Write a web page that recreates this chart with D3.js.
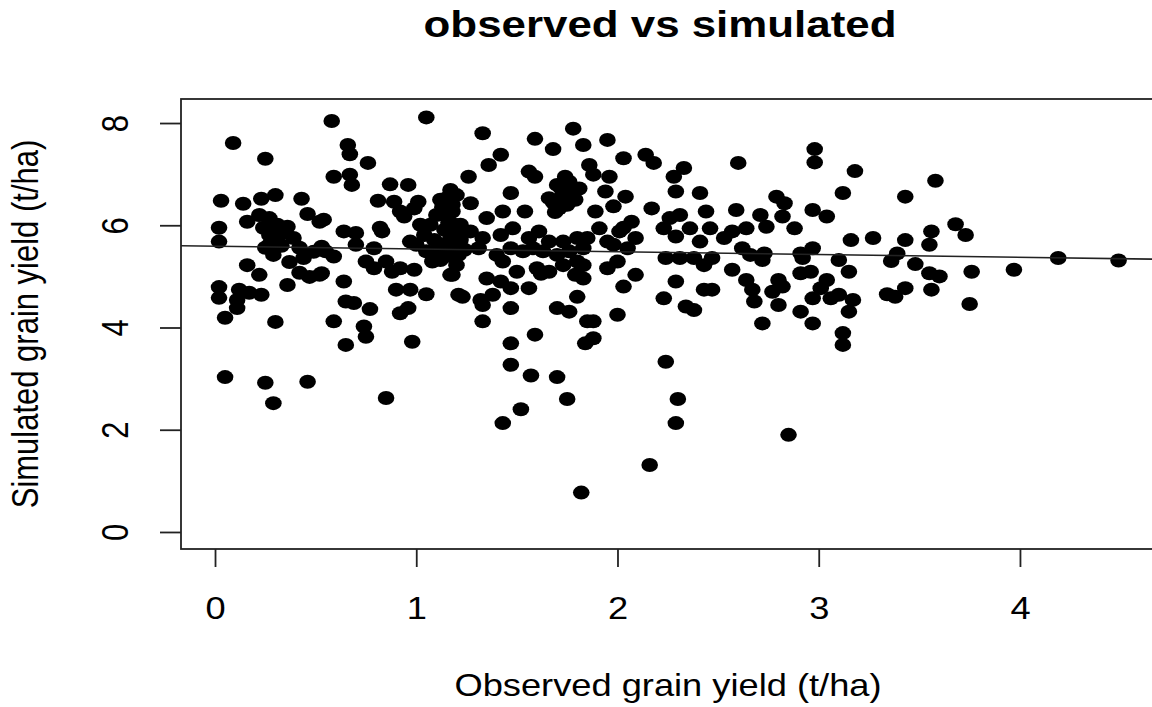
<!DOCTYPE html>
<html>
<head>
<meta charset="utf-8">
<script src="https://cdn.jsdelivr.net/npm/d3@7"></script>
<style>
  body { margin: 0; background: #fff; }
  text { font-family: "Liberation Sans", Arial, sans-serif; fill: #000; }
</style>
</head>
<body>
<script>
// observed vs simulated grain yield (t/ha)
const observed = [
  0.09,0.25,0.03,0.14,0.23,0.30,0.43,0.46,0.52,0.16,
  0.22,0.27,0.24,0.31,0.36,0.02,0.02,0.25,0.31,0.39,
  0.42,0.49,0.53,0.37,0.44,0.29,0.16,0.22,0.42,0.47,
  0.52,0.36,0.02,0.02,0.12,0.17,0.23,0.11,0.11,0.05,
  0.30,0.27,0.34,0.05,0.25,0.29,0.46,0.85,
  0.58,1.05,0.66,0.67,0.76,0.59,0.67,0.68,0.87,0.96,
  0.81,0.89,0.92,0.94,1.01,0.99,0.54,0.82,0.83,0.64,
  0.70,0.70,0.79,0.55,0.59,0.53,0.75,0.79,0.85,0.88,
  0.92,0.99,0.97,1.00,1.15,1.07,1.10,1.18,1.17,1.12,
  1.08,1.17,1.05,0.64,0.65,0.69,0.77,0.90,0.97,1.05,
  0.92,0.96,0.59,0.74,0.75,0.65,0.98,1.21,
  1.12,1.14,1.19,1.22,1.14,1.09,1.24,1.12,1.21,1.04,1.02,1.17,
  1.33,1.59,1.78,1.68,1.42,1.36,1.26,1.56,1.59,1.70,
  1.76,1.66,1.73,1.71,1.75,1.47,1.20,1.27,1.43,1.54,
  1.35,1.18,1.22,1.27,1.33,1.42,1.48,1.56,1.61,1.66,
  1.73,1.80,1.83,1.18,1.31,1.40,1.47,1.53,1.58,1.63,
  1.70,1.76,1.20,1.18,1.43,1.50,1.60,1.66,1.73,1.80,
  1.79,1.35,1.42,1.47,1.56,1.23,1.32,1.33,1.38,1.47,
  1.70,1.76,1.80,1.33,1.59,1.47,1.84,1.85,1.83,1.79,1.69,
  1.47,1.57,1.70,1.75,1.52,1.43,2.24,2.30,2.29,2.16,1.82,2.85,
  1.95,2.03,2.14,2.18,2.33,2.28,2.29,2.41,1.86,1.88,
  1.96,1.94,2.04,2.17,1.89,1.98,2.07,2.01,1.91,1.85,
  1.95,2.09,2.05,2.26,2.31,2.23,2.29,2.36,2.44,2.46,
  2.41,2.24,2.31,2.38,2.43,2.00,1.95,2.09,2.03,1.83,
  1.83,2.29,2.43,2.23,2.34,2.38,2.00,1.88,1.88,
  2.60,2.98,2.98,3.12,2.79,2.83,2.59,2.71,2.82,2.97,
  3.04,2.74,2.88,2.53,2.57,2.64,2.62,2.66,2.73,2.72,
  2.91,2.97,2.92,3.10,2.47,2.57,2.64,2.67,2.68,2.80,
  2.82,2.77,2.80,2.91,2.96,3.04,3.01,2.97,3.06,3.10,
  2.91,2.97,2.72,2.47,3.12,3.12,3.15,
  3.18,3.58,3.43,3.16,3.27,3.43,3.56,3.55,3.68,3.73,
  3.15,3.39,3.36,3.48,3.55,3.60,3.76,3.97,4.19,4.49,
  3.34,3.38,3.43,3.56,3.17,3.75,
  1.72,1.78,1.68,1.74,1.81,1.13,1.16,1.20,1.10,1.15,
  0.27,0.33,1.62,1.98,2.03
];
const simulated = [
  7.61,7.30,6.48,6.42,6.52,6.59,6.52,6.22,6.07,6.07,
  6.20,6.14,5.95,6.01,5.97,5.95,5.68,5.56,5.68,5.75,
  5.56,5.48,5.58,5.28,5.36,5.42,5.22,5.03,5.07,4.99,
  5.03,4.83,4.79,4.58,4.74,4.68,4.64,4.54,4.38,4.19,
  4.11,5.81,5.85,3.03,2.92,2.52,2.94,2.62,
  8.04,8.11,7.57,7.39,7.22,6.95,6.99,6.79,6.80,6.79,
  6.48,6.46,6.27,6.17,6.46,6.33,6.11,5.95,5.88,5.88,
  5.85,5.62,5.55,5.49,5.39,5.06,5.29,5.16,5.29,5.09,
  5.16,5.13,5.68,5.62,6.53,6.01,6.20,6.40,5.75,5.62,
  5.29,5.03,5.49,4.90,4.51,4.48,4.36,4.74,4.74,4.65,
  4.28,4.38,4.12,4.02,3.82,3.66,3.72,4.64,
  6.50,6.20,6.01,5.71,5.91,5.71,5.52,5.32,5.42,5.81,6.01,6.69,
  7.80,7.69,7.89,7.49,7.38,7.18,6.95,7.05,6.95,6.79,
  6.85,6.53,6.59,6.33,6.40,6.63,6.59,6.43,6.27,6.27,
  6.14,6.27,6.01,5.88,5.75,5.81,5.94,5.75,5.88,5.68,
  5.68,5.75,5.55,5.62,5.55,5.42,5.55,5.49,5.55,5.49,
  5.42,5.49,5.22,5.03,5.29,5.09,5.16,5.09,5.22,5.29,
  5.03,4.96,4.90,4.77,4.77,4.60,4.54,4.44,4.64,4.38,
  4.38,4.31,4.60,4.12,3.86,3.69,3.69,4.12,7.57,6.50,6.26,
  3.27,3.06,3.03,2.60,2.40,2.13,3.33,2.60,2.13,1.31,0.77,1.90,
  7.67,7.31,7.38,7.22,7.12,6.95,6.66,6.63,7.18,6.99,
  6.95,6.66,6.56,6.33,6.27,6.37,6.07,5.88,5.94,5.75,
  5.68,5.75,5.55,6.14,6.20,5.94,5.78,5.94,6.27,5.94,
  5.68,5.36,5.36,5.36,5.22,5.29,5.16,5.03,4.80,5.22,
  4.96,4.90,4.74,4.57,4.41,4.34,4.25,4.12,3.79,
  7.22,7.49,7.23,6.63,6.56,6.43,6.30,6.20,6.17,6.30,
  6.17,5.97,5.94,5.75,5.88,5.94,5.55,5.42,5.45,5.32,
  5.45,5.55,5.36,5.32,5.36,5.13,4.93,4.74,4.51,4.93,
  4.80,4.70,4.44,5.06,5.09,4.93,4.77,4.57,4.57,4.64,
  4.31,4.08,4.08,4.74,3.89,3.66,4.31,
  7.06,6.87,6.56,5.71,5.75,5.71,5.88,5.62,6.02,5.81,
  5.09,5.45,5.30,5.24,5.06,5.00,5.09,5.13,5.36,5.31,
  4.65,4.60,4.77,4.74,4.54,4.46,
  6.72,6.66,6.45,6.95,6.72,6.35,6.05,5.85,5.50,5.40,
  5.62,5.60,5.05,5.62,5.95
];
const xTicks = [0, 1, 2, 3, 4];
const yTicks = [0, 2, 4, 6, 8];
// fitted line (abline)
const fitIntercept = 5.59;
const fitSlope = -0.054;

const points = observed.map((o, i) => ({ o, s: simulated[i] }));

const W = 1152, H = 707;
const plotLeft = 181, plotTop = 99, plotRight = 1156, plotBottom = 549;
const sx = 1.17; // the picture is stretched sideways

const svg = d3.select('body').append('svg')
  .attr('width', W).attr('height', H);

const x = d3.scaleLinear().domain([-0.169, 4.676]).range([plotLeft, plotRight]);
const y = d3.scaleLinear().domain([-0.333, 8.47]).range([plotBottom, plotTop]);

// points
svg.append('g')
  .selectAll('ellipse')
  .data(points)
  .enter().append('ellipse')
  .attr('cx', d => x(d.o))
  .attr('cy', d => y(d.s))
  .attr('rx', 8.3)
  .attr('ry', 7.0)
  .attr('fill', '#000');

// fitted line
const xd = x.domain();
svg.append('line')
  .attr('x1', x(xd[0])).attr('y1', y(fitIntercept + fitSlope * xd[0]))
  .attr('x2', x(xd[1])).attr('y2', y(fitIntercept + fitSlope * xd[1]))
  .attr('stroke', '#222').attr('stroke-width', 1.6);

// box
svg.append('rect')
  .attr('x', plotLeft).attr('y', plotTop)
  .attr('width', plotRight - plotLeft).attr('height', plotBottom - plotTop)
  .attr('fill', 'none').attr('stroke', '#222').attr('stroke-width', 1.8);

// x axis
const gx = svg.append('g')
  .attr('transform', `translate(0,${plotBottom})`)
  .call(d3.axisBottom(x).tickValues(xTicks).tickSize(18).tickFormat(d3.format('d')));
gx.select('.domain').remove();
gx.selectAll('line').attr('stroke', '#222').attr('stroke-width', 1.8);
gx.selectAll('text')
  .attr('y', 70).attr('dy', null)
  .attr('transform', `scale(${sx},1)`)
  .style('font-size', '31px');

// y axis
const gy = svg.append('g')
  .attr('transform', `translate(${plotLeft},0)`)
  .call(d3.axisLeft(y).tickValues(yTicks).tickSize(21).tickFormat(d3.format('d')));
gy.select('.domain').remove();
gy.selectAll('line').attr('stroke', '#222').attr('stroke-width', 1.8);
gy.selectAll('text')
  .attr('x', null).attr('dy', null)
  .attr('text-anchor', 'middle')
  .attr('transform', `translate(-53,0) scale(${sx},1) rotate(-90)`)
  .style('font-size', '31px');

// labels
svg.append('text')
  .attr('transform', `translate(660,37) scale(${sx},1)`)
  .attr('text-anchor', 'middle')
  .style('font-size', '37.5px').style('font-weight', 'bold')
  .text('observed vs simulated');

svg.append('text')
  .attr('transform', `translate(668,696) scale(${sx},1)`)
  .attr('text-anchor', 'middle')
  .style('font-size', '31px')
  .text('Observed grain yield (t/ha)');

svg.append('text')
  .attr('transform', `translate(38,${(plotTop + plotBottom) / 2}) scale(${sx},1) rotate(-90)`)
  .attr('text-anchor', 'middle')
  .style('font-size', '31px')
  .text('Simulated grain yield (t/ha)');
</script>
</body>
</html>
